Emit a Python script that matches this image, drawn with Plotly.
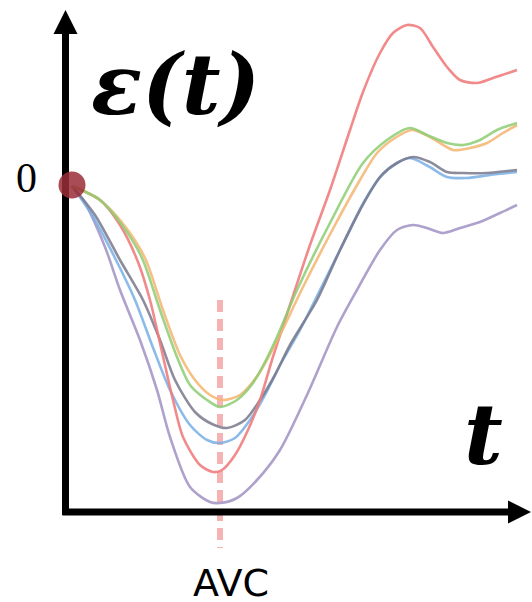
import plotly.graph_objects as go

# ---- data (arbitrary units: t = time, eps = strain) ----
red_t = [2, 30, 50, 68, 80, 92, 103, 113, 130, 143, 152, 165, 178, 190, 202, 220, 240, 260, 280, 293, 310, 323, 337, 350, 363, 377, 390, 407, 423, 447]
red_e = [0, -14, -39, -76, -114, -166, -214, -251, -279, -286, -284, -269, -244, -214, -174, -119, -59, -4, 56, 94, 133, 153, 161, 158, 139, 119, 106, 103, 108, 116]

green_t = [2, 30, 52, 72, 90, 107, 120, 137, 150, 167, 183, 195, 207, 227, 260, 293, 317, 340, 357, 377, 393, 410, 427, 447]
green_e = [0, -14, -39, -72, -124, -171, -199, -214, -221, -214, -197, -176, -151, -104, -37, 23, 46, 58, 51, 43, 41, 46, 56, 63]

orange_t = [2, 30, 54, 75, 93, 110, 125, 140, 153, 170, 188, 210, 233, 265, 290, 307, 325, 342, 360, 383, 400, 417, 433, 447]
orange_e = [0, -14, -39, -72, -124, -169, -194, -209, -214, -209, -189, -149, -101, -39, 6, 33, 48, 56, 49, 36, 38, 43, 53, 61]

gray_t = [2, 25, 50, 73, 90, 105, 125, 142, 157, 175, 190, 205, 220, 247, 270, 290, 310, 327, 343, 360, 377, 393, 417, 447]
gray_e = [0, -29, -74, -114, -154, -194, -226, -238, -242, -234, -214, -189, -159, -114, -64, -24, 9, 23, 29, 24, 14, 13, 13, 16]

blue_t = [2, 22, 45, 65, 82, 100, 120, 137, 150, 165, 180, 195, 210, 230, 255, 275, 295, 312, 327, 340, 358, 377, 397, 420, 447]
blue_e = [0, -29, -72, -114, -159, -204, -239, -254, -257, -252, -234, -209, -179, -144, -94, -54, -14, 11, 23, 28, 20, 9, 8, 11, 14]

lav_t = [2, 15, 35, 50, 70, 87, 100, 120, 140, 150, 167, 187, 210, 237, 267, 287, 310, 327, 343, 357, 373, 390, 410, 430, 447]
lav_e = [0, -17, -61, -104, -154, -204, -251, -301, -316, -317, -312, -294, -264, -209, -141, -104, -64, -44, -39, -42, -47, -42, -36, -27, -19]

avc_t = 150
avc_span = [-114, -362]
origin = (2, 0)

x_range = [-70, 462]
y_range = [-416, 186]
axis_t = -4.5          # position of the vertical axis
axis_e = -326          # position of the horizontal axis

series = [
    ("lavender", lav_t, lav_e, "rgba(160,145,195,0.85)"),
    ("blue", blue_t, blue_e, "rgba(120,175,230,0.85)"),
    ("gray", gray_t, gray_e, "rgba(120,120,140,0.85)"),
    ("red", red_t, red_e, "rgba(240,125,125,0.9)"),
    ("orange", orange_t, orange_e, "rgba(245,180,110,0.85)"),
    ("green", green_t, green_e, "rgba(140,205,115,0.85)"),
]

fig = go.Figure()

# dashed AVC marker
fig.add_trace(go.Scatter(x=[avc_t, avc_t], y=avc_span, mode="lines",
                         line=dict(color="#f6b3b3", width=6, dash="12px,7px"),
                         hoverinfo="skip", showlegend=False))

for name, tt, ee, col in series:
    fig.add_trace(go.Scatter(x=tt, y=ee, mode="lines", name=name,
                             line=dict(color=col, width=2.6, shape="spline", smoothing=0.8),
                             showlegend=False))

# axes lines
fig.add_trace(go.Scatter(x=[axis_t, axis_t], y=[axis_e - 3, 160], mode="lines",
                         line=dict(color="black", width=7), showlegend=False, hoverinfo="skip"))
fig.add_trace(go.Scatter(x=[axis_t - 3, 446], y=[axis_e, axis_e], mode="lines",
                         line=dict(color="black", width=7), showlegend=False, hoverinfo="skip"))
# arrowheads
fig.add_trace(go.Scatter(x=[axis_t], y=[176], mode="markers",
                         marker=dict(symbol="arrow-up", size=24, color="black", line=dict(width=0)),
                         showlegend=False, hoverinfo="skip", cliponaxis=False))
fig.add_trace(go.Scatter(x=[461], y=[axis_e], mode="markers",
                         marker=dict(symbol="arrow-right", size=23, color="black", line=dict(width=0)),
                         showlegend=False, hoverinfo="skip", cliponaxis=False))

# origin dot
fig.add_trace(go.Scatter(x=[origin[0]], y=[origin[1] + 1], mode="markers",
                         marker=dict(size=27, color="rgba(155,45,55,0.85)", line=dict(width=0)),
                         showlegend=False, hoverinfo="skip", cliponaxis=False))

# texts
fig.add_annotation(x=105, y=102, text="ε(t)", showarrow=False, xanchor="center", yanchor="middle",
                   font=dict(family="DejaVu Serif", size=84, color="black", weight="bold", style="italic"))
fig.add_annotation(x=413, y=-248, text="t", showarrow=False, xanchor="center", yanchor="middle",
                   font=dict(family="DejaVu Serif", size=84, color="black", weight="bold", style="italic"))
fig.add_annotation(x=-44, y=8, text="0", showarrow=False, xanchor="center", yanchor="middle",
                   font=dict(family="Liberation Serif", size=42, color="black"))
fig.add_annotation(x=161, y=-397, text="AVC", showarrow=False, xanchor="center", yanchor="middle",
                   font=dict(family="DejaVu Sans", size=38, color="black"))

fig.update_layout(width=532, height=602, margin=dict(l=0, r=0, t=0, b=0),
                  paper_bgcolor="white", plot_bgcolor="white",
                  xaxis=dict(range=x_range, visible=False, fixedrange=True),
                  yaxis=dict(range=y_range, visible=False, fixedrange=True))

fig.write_html("out.html", config={"displayModeBar": False},
               post_script="document.body.style.margin='0';document.body.style.overflow='hidden';")
